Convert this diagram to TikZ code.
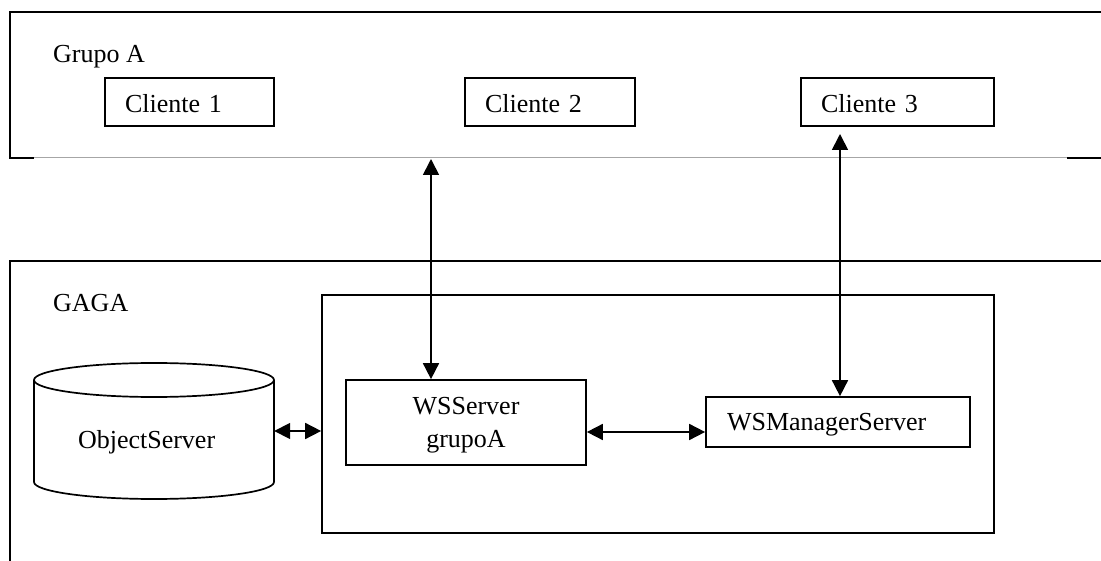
\documentclass[tikz,border=0pt]{standalone}
\usepackage{fontspec}
\setmainfont{Liberation Serif}
\usetikzlibrary{arrows.meta}
\begin{document}
\begin{tikzpicture}[x=1pt,y=-1pt,
  every node/.style={font=\fontsize{26}{33}\selectfont},
  frame/.style={line width=1.8pt},
  thin frame/.style={line width=1pt, gray!70},
  box/.style={draw, line width=1.7pt, inner xsep=20pt, inner ysep=0pt, align=left, text height=22pt, text depth=0pt, minimum height=48pt},
  biarrow/.style={line width=1.7pt, {Triangle[length=16pt,width=16pt]}-{Triangle[length=16pt,width=16pt]}},
  label text/.style={anchor=base west, inner sep=0pt}
]
\useasboundingbox (0,0) rectangle (1101,561);
% Grupo A frame
\draw[frame] (10,158) -- (10,12) -- (1104,12);
\draw[frame] (9.1,158) -- (34,158);
\draw[thin frame] (34,158) -- (1067,158);
\draw[frame] (1067,158) -- (1104,158);
\node[label text] (grupo) at (53,63) {Grupo A};
\node[box, minimum width=169pt, text width=129pt] (c1) at (189.5,102) {Cliente 1};
\node[box, minimum width=170pt, text width=130pt] (c2) at (550,102) {Cliente 2};
\node[box, minimum width=193pt, text width=153pt] (c3) at (897.5,102) {Cliente 3};
% GAGA frame
\draw[frame] (10,565) -- (10,261) -- (1104,261);
\node[label text] (gaga) at (53,312) {GAGA};
\node[draw, line width=1.7pt, minimum width=672pt, minimum height=238pt] (inner) at (658,414) {};
% cylinder
\draw[line width=1.7pt] (154,380) ellipse [x radius=120pt, y radius=17pt];
\draw[line width=1.7pt] (34,380) -- (34,482) arc[start angle=180, end angle=360, x radius=120pt, y radius=17pt] -- (274,380);
\node[minimum width=240pt, minimum height=136pt, inner xsep=44pt, text width=152pt, align=left, text height=34pt, text depth=0pt] (os) at (154,431) {ObjectServer};
% servers
\node[draw, line width=1.7pt, minimum width=240pt, minimum height=85pt, inner sep=0pt, align=center, text depth=0pt] (ws) at (466,422.5) {WSServer\\grupoA};
\node[box, minimum width=264pt, minimum height=50pt, inner xsep=21pt, text width=222pt, text height=22pt, text depth=6pt] (wm) at (838,422) {WSManagerServer};
% connectors
\coordinate (g1) at (431,159);
\coordinate (g3) at (840,134);
\coordinate (row) at (600,432);
\draw[biarrow] (g1) -- (g1 |- ws.north);
\draw[biarrow] (g3) -- (g3 |- wm.north);
\draw[biarrow] (os.east) -- (inner.west |- os.east);
\draw[biarrow] (ws.east |- row) -- (wm.west |- row);
\end{tikzpicture}
\end{document}
